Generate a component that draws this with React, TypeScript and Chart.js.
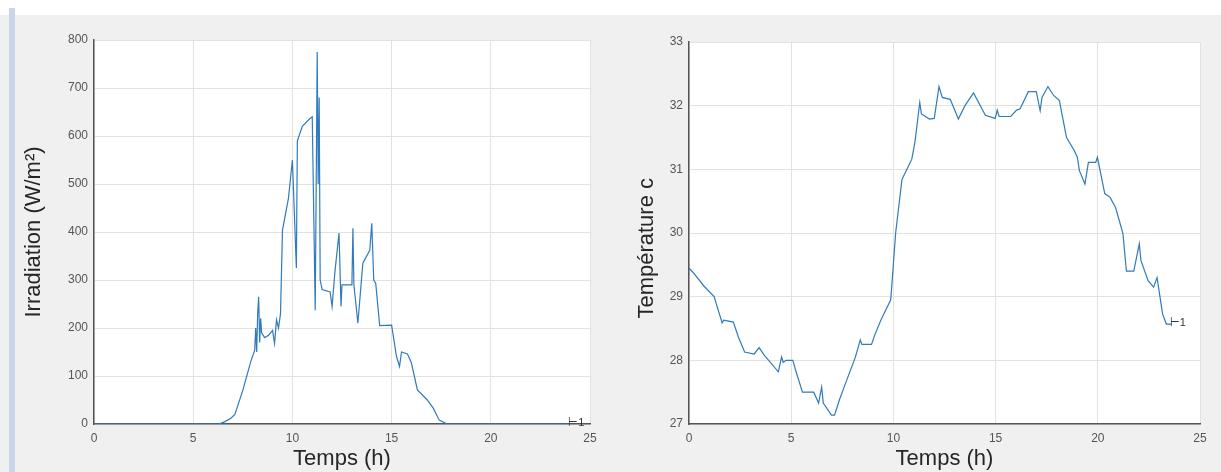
import React, { useEffect, useRef } from "react";
import { Chart, registerables } from "chart.js";
Chart.register(...registerables);

// ---- data ----
const xTickValues = [0, 5, 10, 15, 20, 25];
const irrTickValues = [0, 100, 200, 300, 400, 500, 600, 700, 800];
const tempTickValues = [27, 28, 29, 30, 31, 32, 33];

const irrHours = [
  0, 6.3, 6.6, 6.9, 7.1, 7.5, 7.9, 8.1, 8.15, 8.2, 8.25, 8.3, 8.35, 8.4, 8.45, 8.6, 8.8, 9.0, 9.1, 9.2,
  9.3, 9.4, 9.5, 9.8, 10.0, 10.2, 10.25, 10.5, 10.9, 11.0, 11.05, 11.15, 11.2, 11.25, 11.3, 11.35, 11.4,
  11.5, 11.9, 12.0, 12.15, 12.35, 12.45, 12.5, 13.0, 13.05, 13.1, 13.3, 13.55, 13.9, 14.0, 14.1, 14.2,
  14.4, 15.0, 15.25, 15.4, 15.5, 15.8, 16.0, 16.3, 16.8, 17.1, 17.4, 17.8, 24,
];
const irradiation = [
  0, 0, 5, 12, 20, 70, 130, 154, 200, 150, 230, 265, 170, 220, 190, 180, 185, 195, 168, 217,
  200, 230, 404, 470, 550, 325, 590, 620, 637, 640, 508, 237, 500, 775, 500, 680, 300,
  280, 275, 245, 320, 398, 245, 290, 290, 408, 290, 210, 335, 362, 418, 300, 293,
  205, 206, 140, 120, 150, 146, 127, 71, 50, 33, 8, 0, 0,
];

const tempHours = [
  0, 0.2, 0.75, 1.23, 1.38, 1.62, 1.7, 2.17, 2.41, 2.72, 3.19, 3.43, 3.66, 4.37, 4.53, 4.61, 4.76, 5.08,
  5.24, 5.55, 6.1, 6.34, 6.49, 6.57, 6.97, 7.12, 7.36, 7.67, 8.14, 8.38, 8.46, 8.93, 9.09, 9.4, 9.87,
  10.11, 10.42, 10.9, 11.05, 11.29, 11.37, 11.76, 12.0, 12.23, 12.39, 12.78, 13.18, 13.5, 13.92, 14.5,
  14.98, 15.08, 15.17, 15.74, 16.03, 16.2, 16.6, 16.99, 17.18, 17.27, 17.56, 17.84, 18.12, 18.21, 18.47,
  18.84, 19.0, 19.1, 19.37, 19.54, 19.9, 19.98, 20.34, 20.6, 20.87, 21.23, 21.4, 21.76, 22.03, 22.11,
  22.46, 22.73, 22.9, 23.17, 23.35, 23.62,
];
const temperature = [
  29.45, 29.38, 29.16, 29.0, 28.84, 28.59, 28.63, 28.6, 28.37, 28.13, 28.1, 28.2, 28.09, 27.82, 28.05,
  27.97, 28.0, 28.0, 27.82, 27.5, 27.5, 27.33, 27.58, 27.33, 27.14, 27.14, 27.38, 27.65, 28.05, 28.32,
  28.25, 28.25, 28.4, 28.64, 28.95, 30.0, 30.84, 31.16, 31.42, 32.05, 31.87, 31.79, 31.8, 32.3, 32.13,
  32.1, 31.79, 32.0, 32.2, 31.85, 31.8, 31.93, 31.83, 31.83, 31.93, 31.95, 32.22, 32.22, 31.92, 32.13,
  32.3, 32.16, 32.08, 31.93, 31.5, 31.3, 31.19, 30.98, 30.77, 31.11, 31.11, 31.19, 30.62, 30.56, 30.4,
  29.99, 29.4, 29.4, 29.83, 29.57, 29.25, 29.15, 29.3, 28.73, 28.57, 28.57,
];

const xTitle = "Temps (h)";
const irrTitle = "Irradiation (W/m²)";
const tempTitle = "Température c     ";
const endLabel = "⊢1";

const FONT = "'Liberation Sans', Arial, sans-serif";
const LINE_COLOR = "rgb(48,122,190)";

const whiteArea = {
  id: "whiteArea",
  beforeDraw(chart: any) {
    const { ctx, chartArea } = chart;
    ctx.save();
    ctx.fillStyle = "#ffffff";
    ctx.fillRect(chartArea.left, chartArea.top, chartArea.right - chartArea.left, chartArea.bottom - chartArea.top);
    ctx.restore();
  },
};

const endMark = {
  id: "endMark",
  afterDatasetsDraw(chart: any) {
    const meta = chart.getDatasetMeta(0);
    const pts = meta.data;
    if (!pts.length) return;
    const last = pts[pts.length - 1];
    const { ctx } = chart;
    ctx.save();
    ctx.fillStyle = "#333";
    ctx.font = `11px ${FONT}`;
    ctx.textBaseline = "middle";
    ctx.textAlign = "left";
    ctx.fillText(endLabel, last.x - 2, last.y - 1);
    ctx.restore();
  },
};

function makeConfig(
  hours: number[],
  values: number[],
  yTicks: number[],
  yTitle: string,
  yWidth: number,
  padTop: number,
  padRight: number,
  titlePad: number
): any {
  return {
    type: "line",
    data: {
      datasets: [
        {
          data: hours.map((h, i) => ({ x: h, y: values[i] })),
          borderColor: LINE_COLOR,
          borderWidth: 1.2,
          pointRadius: 0,
          tension: 0,
          fill: false,
        },
      ],
    },
    options: {
      animation: false,
      responsive: false,
      maintainAspectRatio: false,
      layout: { padding: { left: 0, top: padTop, right: padRight, bottom: 0 } },
      plugins: { legend: { display: false }, tooltip: { enabled: false } },
      scales: {
        x: {
          type: "linear",
          min: xTickValues[0],
          max: xTickValues[xTickValues.length - 1],
          afterBuildTicks: (s: any) => {
            s.ticks = xTickValues.map((v) => ({ value: v }));
          },
          afterFit: (s: any) => {
            s.height = 48;
          },
          grid: { color: "#e2e2e2", drawTicks: false, lineWidth: 1 },
          border: { color: "#555", width: 1.5 },
          ticks: { padding: 7, color: "#555", font: { family: FONT, size: 12 }, maxRotation: 0, autoSkip: false },
          title: { display: true, text: xTitle, color: "#262626", font: { family: FONT, size: 22 }, padding: { top: 0, bottom: 0 } },
        },
        y: {
          type: "linear",
          min: yTicks[0],
          max: yTicks[yTicks.length - 1],
          afterBuildTicks: (s: any) => {
            s.ticks = yTicks.map((v) => ({ value: v }));
          },
          afterFit: (s: any) => {
            s.width = yWidth;
          },
          grid: { color: "#e2e2e2", drawTicks: false, lineWidth: 1 },
          border: { color: "#555", width: 1.5 },
          ticks: { padding: 6, color: "#555", font: { family: FONT, size: 12 }, autoSkip: false },
          title: { display: true, text: yTitle, color: "#262626", font: { family: FONT, size: 22 }, padding: { top: titlePad, bottom: 0 } },
        },
      },
    },
    plugins: [whiteArea, endMark],
  };
}

function Panel(props: { left: number; width: number; config: any }) {
  const ref = useRef<HTMLCanvasElement | null>(null);
  useEffect(() => {
    if (!ref.current) return;
    const chart = new Chart(ref.current, props.config);
    return () => chart.destroy();
  }, []);
  return (
    <canvas
      ref={ref}
      width={props.width}
      height={472}
      style={{ position: "absolute", left: props.left, top: 0, width: props.width, height: 472 }}
    />
  );
}

export default function App() {
  const leftCfg = makeConfig(irrHours, irradiation, irrTickValues, irrTitle, 94, 40, 20, 21);
  const rightCfg = makeConfig(tempHours, temperature, tempTickValues, tempTitle, 79, 42, 21, 24);
  return (
    <div style={{ position: "absolute", left: 0, top: 0, width: 1221, height: 472, background: "#f0f0f0", overflow: "hidden" }}>
      <div style={{ position: "absolute", left: 0, top: 0, width: 1221, height: 15, background: "#ffffff" }} />
      <div style={{ position: "absolute", left: 9, top: 8, width: 6, height: 464, background: "#c9d5e8" }} />
      <Panel left={0} width={610} config={leftCfg} />
      <Panel left={610} width={611} config={rightCfg} />
    </div>
  );
}
